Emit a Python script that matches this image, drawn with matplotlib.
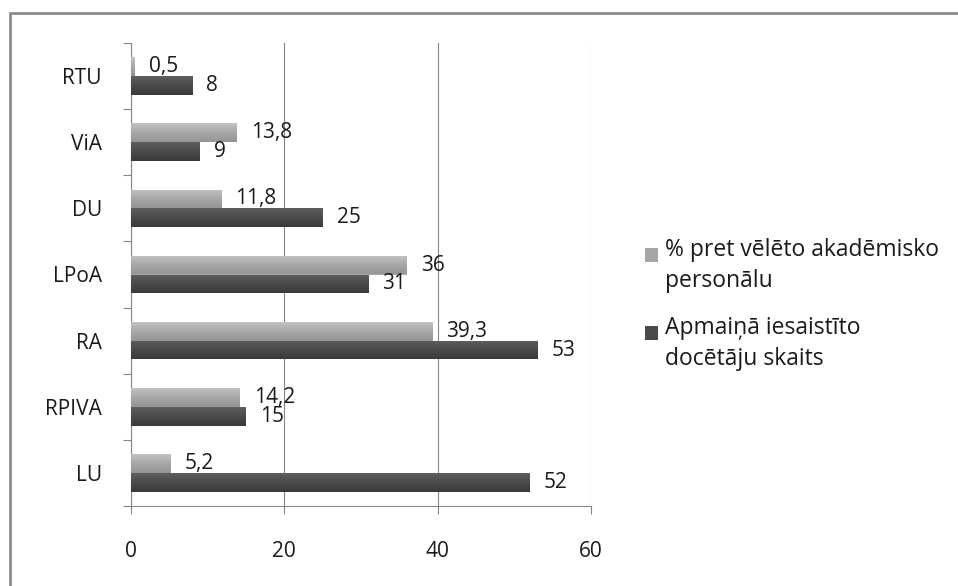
import numpy as np
import matplotlib
matplotlib.use("Agg")
import matplotlib.pyplot as plt
from matplotlib.patches import Rectangle
from matplotlib.colors import LinearSegmentedColormap
from matplotlib.legend_handler import HandlerPatch

plt.rcParams['font.family'] = ['Open Sans', 'DejaVu Sans']

categories = ["LU", "RPIVA", "RA", "LPoA", "DU", "ViA", "RTU"]
pct_values = [5.2, 14.2, 39.3, 36, 11.8, 13.8, 0.5]
count_values = [52, 15, 53, 31, 25, 9, 8]
series_names = ["% pret vēlēto akadēmisko\npersonālu",
                "Apmaiņā iesaistīto\ndocētāju skaits"]
x_ticks = [0, 20, 40, 60]

FS = 15
LFS = 16.5
GRAY = "#868686"
TXT = "#1a1a1a"

fig = plt.figure(figsize=(9.58, 5.86), dpi=100)
ax = fig.add_axes([131/958, 1-506/586, (591-131)/958, (506-43)/586])

# outer chart border (top/left visible, right/bottom cut off)
fig.patches.append(Rectangle((10/958, -0.1), 1.2, 1 - 13/586 + 0.1, transform=fig.transFigure,
                             fill=False, edgecolor="#8c8c8c", linewidth=2.0, zorder=0))

y = np.arange(len(categories))
h = 0.285

light_cmap = LinearSegmentedColormap.from_list("l", ["#c2c2c2", "#a8a8a8", "#959595"])
dark_cmap = LinearSegmentedColormap.from_list("d", ["#5e5e5e", "#4a4a4a", "#3a3a3a"])

b1 = ax.barh(y + h/2, pct_values, height=h, color="#a6a6a6", zorder=3)
b2 = ax.barh(y - h/2, count_values, height=h, color="#4a4a4a", zorder=3)

grad = np.linspace(0, 1, 64).reshape(-1, 1)
for bars, cmap in ((b1, light_cmap), (b2, dark_cmap)):
    for r in bars:
        x0, y0, w, hh = r.get_x(), r.get_y(), r.get_width(), r.get_height()
        im = ax.imshow(grad, extent=[x0, x0 + w, y0, y0 + hh], origin="upper",
                       aspect="auto", cmap=cmap, zorder=3.5, interpolation="bilinear")
        im.set_clip_path(r)

def fmt(v):
    return f"{v:g}".replace(".", ",")

ax.bar_label(b1, labels=[fmt(v) for v in pct_values], padding=10, fontsize=FS, color=TXT, zorder=5)
ax.bar_label(b2, labels=[fmt(v) for v in count_values], padding=10, fontsize=FS, color=TXT, zorder=5)

ax.set_xlim(0, 60)
ax.set_ylim(-0.5, len(categories) - 0.5)
ax.set_aspect("auto")

ax.set_xticks(x_ticks)
ax.set_xticklabels([str(t) for t in x_ticks], fontsize=FS, color=TXT)
ax.set_yticks(y)
ax.set_yticklabels(categories, fontsize=FS, color=TXT)
ax.set_yticks(np.arange(-0.5, len(categories), 1.0), minor=True)

ax.tick_params(axis="y", which="major", length=0, pad=21)
ax.tick_params(axis="y", which="minor", length=6, width=0.8, color=GRAY, direction="out")
ax.tick_params(axis="x", which="major", length=6, width=0.8, color=GRAY, direction="out", pad=19)

ax.grid(axis="x", color=GRAY, linewidth=0.8, zorder=0)
ax.set_axisbelow(True)
for s in ("top", "right"):
    ax.spines[s].set_visible(False)
for s in ("left", "bottom"):
    ax.spines[s].set_color(GRAY)
    ax.spines[s].set_linewidth(0.8)

def top_square(legend, orig_handle, xdescent, ydescent, width, height, fontsize):
    return Rectangle((-xdescent, -ydescent + 0.5 * fontsize), width, height)

handles = [Rectangle((0, 0), 1, 1, facecolor="#a6a6a6"),
           Rectangle((0, 0), 1, 1, facecolor="#4a4a4a")]
hm = {hd: HandlerPatch(patch_func=top_square) for hd in handles}
leg = fig.legend(handles, series_names, loc="upper left", handler_map=hm,
                 bbox_to_anchor=(645/958, 1 - 238/586), frameon=False, fontsize=LFS,
                 borderpad=0, borderaxespad=0, handlelength=0.55, handleheight=0.55,
                 handletextpad=0.32, labelspacing=1.0)
for t in leg.get_texts():
    t.set_linespacing(1.4)
    t.set_color(TXT)

fig.savefig("out.png", dpi=100)
